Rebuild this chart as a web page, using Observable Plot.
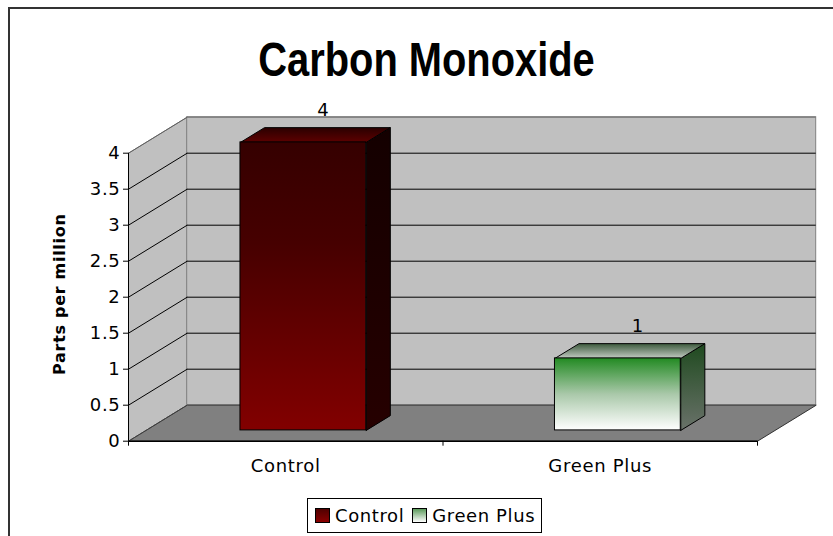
<!DOCTYPE html>
<html><head><meta charset="utf-8">
<script src="https://cdn.jsdelivr.net/npm/d3@7"></script>
<script src="https://cdn.jsdelivr.net/npm/@observablehq/plot@0.6"></script>
<style>
html,body{margin:0;padding:0;background:#fff;}
body{width:833px;height:536px;overflow:hidden;position:relative;font-family:"DejaVu Sans",sans-serif;}
#frame{position:absolute;left:8px;top:7px;width:900px;height:600px;border-left:2px solid #333;border-top:2px solid #333;box-sizing:border-box;}
#title{position:absolute;left:0;width:853px;top:35px;text-align:center;font-weight:bold;font-size:48.6px;line-height:48px;font-family:"Liberation Sans",Arial,sans-serif;color:#000;transform:scaleX(0.82);transform-origin:426.5px 0;}
#chart{position:absolute;left:0;top:0;}
#legend{position:absolute;left:307px;top:498px;width:226px;height:33px;border:1px solid #000;display:flex;align-items:center;padding-left:7px;box-sizing:content-box;font-size:18px;letter-spacing:0.6px;color:#000;white-space:nowrap;overflow:hidden;}
#legend .sw{width:13px;height:13px;border:1px solid #000;display:inline-block;flex:none;}
</style>
</head><body>
<div id="frame"></div>
<div id="chart"></div>
<div id="title"></div>
<div id="legend"></div>
<script>
// ---- data ----
const titleText = "Carbon Monoxide";
const yLabel = "Parts per million";
const categories = ["Control", "Green Plus"];
const values = [4, 1];
const yTicks = [0, 0.5, 1, 1.5, 2, 2.5, 3, 3.5, 4];
const xBoundaries = [0, 1, 2];

// ---- 3D geometry (in data units) ----
const DX = 0.1866;   // depth shift along x (category units)
const DY = 0.5;      // depth shift along y (value units)
const YMAX = 4;
const NC = categories.length;
const BW = 0.4;      // bar width fraction of category
const F0 = 0.3, F1 = 0.71; // bar front/back depth fraction

const gradIds = [
  {front: "url(#cFront)", top: "url(#cTop)", side: "url(#cSide)"},
  {front: "url(#gFront)", top: "url(#gTop)", side: "url(#gSide)"}
];

function poly(pts, opts) {
  const closed = pts.concat([pts[0]]);
  return Plot.line(closed, {x: "x", y: "y", curve: "linear", ...opts});
}

const marks = [];
// side wall
marks.push(poly([{x:0,y:0},{x:DX,y:DY},{x:DX,y:YMAX+DY},{x:0,y:YMAX}], {fill:"#c0c0c0", stroke:"#808080", strokeWidth:1}));
// back wall
marks.push(Plot.rect([0], {x1: DX, x2: NC + DX, y1: DY, y2: YMAX + DY, fill: "#c0c0c0", stroke: "#808080", strokeWidth: 1}));
// floor
marks.push(poly([{x:0,y:0},{x:NC,y:0},{x:NC+DX,y:DY},{x:DX,y:DY}], {fill:"#808080", stroke:"#333", strokeWidth:1}));
// gridlines on back wall
marks.push(Plot.ruleY(yTicks.filter(v => v > 0 && v < YMAX), {y: v => v + DY, x1: DX, x2: NC + DX, stroke: "#000", strokeWidth: 1}));
marks.push(Plot.ruleY([YMAX], {y: v => v + DY, x1: DX, x2: NC + DX, stroke: "#707070", strokeWidth: 1}));
// gridlines on side wall
marks.push(Plot.link(yTicks.filter(v => v > 0), {x1: 0, y1: v => v, x2: DX, y2: v => v + DY, stroke: v => v < YMAX ? "#000" : "#606060", strokeWidth: 1}));
marks.push(Plot.link([0], {x1: 0, y1: 0, x2: DX, y2: DY, stroke: "#404040", strokeWidth: 1, strokeDasharray: "2,1"}));
// axis lines
marks.push(Plot.ruleX([0], {y1: 0, y2: YMAX, stroke: "#000", strokeWidth: 1}));
marks.push(Plot.ruleY([0], {x1: 0, x2: NC, stroke: "#000", strokeWidth: 1.5}));
marks.push(Plot.axisY(yTicks, {tickSize: 5, tickPadding: 3, tickFormat: d => String(d), label: null, fontSize: 18}));
marks.push(Plot.axisX(xBoundaries, {tickSize: 5, tickFormat: () => "", label: null}));

// bars
values.forEach((v, i) => {
  const x1 = i + 0.5 - BW / 2, x2 = i + 0.5 + BW / 2;
  const g = gradIds[i];
  // right side
  marks.push(poly([
    {x: x2 + F0*DX, y: F0*DY}, {x: x2 + F1*DX, y: F1*DY},
    {x: x2 + F1*DX, y: v + F1*DY}, {x: x2 + F0*DX, y: v + F0*DY}
  ], {fill: g.side, stroke: "#000", strokeWidth: 1}));
  // top
  marks.push(poly([
    {x: x1 + F0*DX, y: v + F0*DY}, {x: x2 + F0*DX, y: v + F0*DY},
    {x: x2 + F1*DX, y: v + F1*DY}, {x: x1 + F1*DX, y: v + F1*DY}
  ], {fill: g.top, stroke: "#000", strokeWidth: 1}));
  // front
  marks.push(Plot.rect([v], {x1: x1 + F0*DX, x2: x2 + F0*DX, y1: F0*DY, y2: d => d + F0*DY, fill: g.front, stroke: "#000", strokeWidth: 1}));
});

// value labels
marks.push(Plot.text(values, {x: (d, i) => i + 0.5 + 0.64*DX, y: d => d + 0.64*DY, text: d => String(d), dy: -14, lineAnchor: "bottom", fontSize: 18}));
// category labels
marks.push(Plot.text(categories, {x: (d, i) => i + 0.5, y: 0, text: d => d, dy: 18.5, lineAnchor: "top", fontSize: 18}));
// y label
marks.push(Plot.text([yLabel], {y: YMAX / 2, frameAnchor: "left", text: d => d, rotate: -90, dx: -69, dy: -3, fontSize: 16, fontWeight: "bold", lineAnchor: "middle", textAnchor: "middle"}));

const svg = Plot.plot({
  width: 833, height: 536,
  marginLeft: 128, marginRight: 17.3, marginTop: 116.7, marginBottom: 95.3,
  x: {type: "linear", domain: [0, NC + DX]},
  y: {type: "linear", domain: [0, YMAX + DY]},
  style: {fontFamily: "DejaVu Sans", fontSize: "18px", letterSpacing: "0.7px", color: "#000", background: "transparent", overflow: "visible"},
  marks
});

// gradient definitions
const NS = "http://www.w3.org/2000/svg";
const defs = document.createElementNS(NS, "defs");
function grad(id, stops) {
  const lg = document.createElementNS(NS, "linearGradient");
  lg.setAttribute("id", id);
  lg.setAttribute("x1", "0"); lg.setAttribute("y1", "0");
  lg.setAttribute("x2", "0"); lg.setAttribute("y2", "1");
  stops.forEach(([o, c]) => {
    const s = document.createElementNS(NS, "stop");
    s.setAttribute("offset", o); s.setAttribute("stop-color", c);
    lg.appendChild(s);
  });
  defs.appendChild(lg);
}
grad("cFront", [["0", "#350000"], ["0.35", "#460000"], ["1", "#820000"]]);
grad("cTop", [["0", "#2a0000"], ["1", "#5e0000"]]);
grad("cSide", [["0", "#140000"], ["1", "#260000"]]);
grad("gFront", [["0", "#228a22"], ["0.5", "#a9c8a9"], ["1", "#ffffff"]]);
grad("gTop", [["0", "#3d5a3d"], ["1", "#c4ccc4"]]);
grad("gSide", [["0", "#1f4a1f"], ["1", "#6a726a"]]);
svg.insertBefore(defs, svg.firstChild);
document.getElementById("chart").appendChild(svg);

document.getElementById("title").textContent = titleText;

// legend
const legendColors = [
  "linear-gradient(#500000, #8a0000)",
  "linear-gradient(#5a9a5a, #ffffff)"
];
const lg = document.getElementById("legend");
categories.forEach((c, i) => {
  const sw = document.createElement("span");
  sw.className = "sw";
  sw.style.background = legendColors[i];
  sw.style.marginRight = "5px";
  const t = document.createElement("span");
  t.textContent = c;
  if (i < categories.length - 1) t.style.marginRight = "8px";
  lg.appendChild(sw); lg.appendChild(t);
});
</script>
</body></html>
